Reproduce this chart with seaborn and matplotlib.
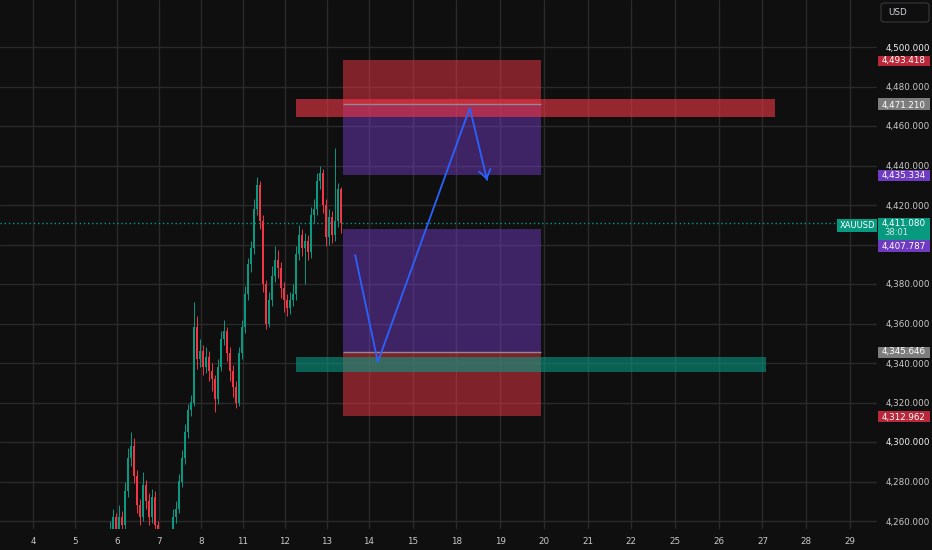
import numpy as np
import pandas as pd
import matplotlib
matplotlib.use("Agg")
import matplotlib.pyplot as plt
import seaborn as sns
from matplotlib.patches import Rectangle, FancyBboxPatch
from matplotlib.transforms import blended_transform_factory

# ---------------- data ----------------
day_labels = ["4", "5", "6", "7", "8", "11", "12", "13", "14", "15",
              "18", "19", "20", "21", "22", "25", "26", "27", "28", "29"]

opens = [4246, 4248, 4250, 4256, 4262, 4254, 4262, 4258, 4275, 4292,
         4298, 4283, 4268, 4262, 4278, 4270, 4262, 4272, 4258, 4248,
         4244, 4242, 4246, 4252, 4262, 4266, 4280, 4292, 4305, 4316,
         4320, 4358, 4342, 4346, 4338, 4343, 4336, 4332, 4322, 4338,
         4352, 4356, 4345, 4336, 4328, 4320, 4345, 4358, 4375, 4390,
         4398, 4418, 4430, 4412, 4380, 4360, 4372, 4384, 4392, 4388,
         4378, 4372, 4368, 4372, 4375, 4395, 4405, 4398, 4402, 4396,
         4415, 4418, 4432, 4436, 4420, 4404, 4414, 4405, 4412, 4428]
closes = [4248, 4250, 4256, 4262, 4254, 4262, 4258, 4275, 4292, 4298,
          4283, 4268, 4262, 4278, 4270, 4262, 4272, 4258, 4248, 4244,
          4242, 4246, 4252, 4262, 4266, 4280, 4292, 4305, 4316, 4320,
          4358, 4342, 4346, 4338, 4343, 4336, 4332, 4322, 4338, 4352,
          4356, 4345, 4336, 4328, 4320, 4345, 4358, 4375, 4390, 4398,
          4418, 4430, 4412, 4380, 4360, 4372, 4384, 4392, 4388, 4378,
          4372, 4368, 4372, 4375, 4395, 4405, 4398, 4402, 4396, 4415,
          4418, 4432, 4436, 4420, 4404, 4414, 4405, 4412, 4428, 4411.08]
highs = [4251, 4254, 4260, 4266, 4264, 4268, 4265, 4280, 4297, 4305,
         4302, 4286, 4271, 4285, 4281, 4274, 4276, 4275, 4260, 4251,
         4247, 4250, 4256, 4266, 4270, 4284, 4296, 4309, 4319, 4324,
         4371, 4364, 4352, 4349, 4348, 4346, 4340, 4334, 4342, 4356,
         4362, 4358, 4348, 4339, 4331, 4348, 4362, 4379, 4393, 4402,
         4423, 4434, 4432, 4415, 4382, 4376, 4389, 4399, 4397, 4391,
         4381, 4375, 4376, 4380, 4399, 4410, 4408, 4406, 4405, 4419,
         4423, 4436, 4440, 4438, 4423, 4418, 4417, 4449, 4431, 4429]
lows = [4243, 4245, 4248, 4253, 4250, 4252, 4254, 4256, 4272, 4288,
        4279, 4264, 4258, 4260, 4266, 4258, 4259, 4254, 4244, 4240,
        4238, 4239, 4243, 4250, 4259, 4264, 4277, 4289, 4302, 4313,
        4318, 4337, 4338, 4334, 4335, 4331, 4326, 4315, 4319, 4336,
        4349, 4341, 4331, 4323, 4317, 4318, 4342, 4355, 4372, 4386,
        4395, 4415, 4408, 4376, 4357, 4358, 4369, 4381, 4383, 4373,
        4366, 4364, 4365, 4369, 4372, 4392, 4394, 4380, 4392, 4393,
        4411, 4415, 4428, 4416, 4399, 4400, 4401, 4402, 4409, 4406]

# position tool zones (prices)
upper_stop = 4493.418
upper_entry = 4471.210
upper_target = 4435.334
lower_top = 4407.787
lower_entry = 4345.646
lower_stop = 4312.962
red_band = (4464.6, 4473.8)
green_band = (4335.5, 4343.0)
last_price = 4411.080
countdown = "38:01"

# drawn arrow path (x in day units, price)
arrow_x = [7.67, 8.21, 10.40, 10.81]
arrow_y = [4394.7, 4340.5, 4469.1, 4432.7]

# price ticks hidden behind the price tags in the reference
hidden_ticks = [4400]

# ---------------- layout ----------------
W, H = 932, 550
BG = "#0f0f0f"
GRID = "#2a2a2a"
TXT = "#c9c9c9"
UP = "#089981"
DOWN = "#f23645"

sns.set_theme(style="dark", rc={
    "axes.facecolor": BG, "figure.facecolor": BG,
    "axes.edgecolor": BG, "grid.color": GRID,
})
plt.rcParams["font.family"] = ["DejaVu Sans"]

fig = plt.figure(figsize=(W / 100, H / 100), dpi=100)
ax_left_px, ax_right_px, ax_bottom_px = 0, 877, 529
ax = fig.add_axes([0, (H - ax_bottom_px) / H, ax_right_px / W, ax_bottom_px / H])
ax.set_facecolor(BG)

# x: day units, 42 px per past day
px_per_unit = 42.0
x0_px = 33.0
xlim = ((0 - x0_px) / px_per_unit, (ax_right_px - x0_px) / px_per_unit)
ax.set_xlim(*xlim)
# y: price
px_per_price = 1.975
ylim = (4500 - (ax_bottom_px - 47) / px_per_price, 4500 + 47 / px_per_price)
ax.set_ylim(*ylim)

past_n = 8
future_step = 1.041
xticks = [i for i in range(past_n)] + [past_n + k * future_step for k in range(len(day_labels) - past_n)]
yticks = list(range(4260, 4501, 20))

for xv in xticks:
    ax.axvline(xv, color=GRID, lw=1, zorder=0)
for yv in yticks:
    ax.axhline(yv, color=GRID, lw=1, zorder=0)

# ---------------- candles ----------------
bar_start = 1.69
bar_step = 1 / 14
df = pd.DataFrame({"open": opens, "high": highs, "low": lows, "close": closes})
df["x"] = bar_start + np.arange(len(df)) * bar_step
df["up"] = df["close"] >= df["open"]
df["color"] = np.where(df["up"], UP, DOWN)
ax.vlines(df["x"], df["low"], df["high"], colors=df["color"], lw=0.7, zorder=3)
body_bottom = df[["open", "close"]].min(axis=1)
body_h = (df["close"] - df["open"]).abs().clip(lower=0.4)
ax.bar(df["x"], body_h, bottom=body_bottom, width=0.05, color=df["color"],
       linewidth=0, zorder=4)

# ---------------- zones ----------------
zl, zr = 7.38, 12.1
band_l = 6.26
ax.add_patch(Rectangle((zl, upper_entry), zr - zl, upper_stop - upper_entry,
                       facecolor=DOWN, alpha=0.5, lw=0, zorder=2))
ax.add_patch(Rectangle((zl, upper_target), zr - zl, upper_entry - upper_target,
                       facecolor="#7b3fd0", alpha=0.45, lw=0, zorder=2))
ax.add_patch(Rectangle((zl, lower_entry), zr - zl, lower_top - lower_entry,
                       facecolor="#7b3fd0", alpha=0.45, lw=0, zorder=2))
ax.add_patch(Rectangle((zl, lower_stop), zr - zl, lower_entry - lower_stop,
                       facecolor=DOWN, alpha=0.5, lw=0, zorder=2))
ax.hlines([upper_entry, lower_entry], zl, zr, colors="#8d8a94", lw=1, zorder=2.5)
ax.add_patch(Rectangle((band_l, red_band[0]), 17.67 - band_l, red_band[1] - red_band[0],
                       facecolor=DOWN, alpha=0.6, lw=0, zorder=2.2))
ax.add_patch(Rectangle((band_l, green_band[0]), 17.45 - band_l, green_band[1] - green_band[0],
                       facecolor=UP, alpha=0.6, lw=0, zorder=2.2))

# current price line
ax.axhline(last_price, color=UP, lw=1, ls=(0, (1, 2)), zorder=2.6)

# arrow path
sns.lineplot(x=arrow_x, y=arrow_y, sort=False, color="#2962ff", lw=1.3, ax=ax, zorder=6)
dx = arrow_x[-1] - arrow_x[-2]
dy = arrow_y[-1] - arrow_y[-2]
ax.annotate("", xy=(arrow_x[-1], arrow_y[-1]),
            xytext=(arrow_x[-1] - 0.05 * dx, arrow_y[-1] - 0.05 * dy),
            arrowprops=dict(arrowstyle="->,head_length=0.5,head_width=0.35", color="#2962ff",
                            lw=1.3, mutation_scale=12, shrinkA=0, shrinkB=0), zorder=6)

# ---------------- axes ticks ----------------
ax.set_xticks(xticks)
ax.set_xticklabels(day_labels)
ax.set_yticks(yticks)
ax.set_yticklabels(["" if v in hidden_ticks else f"{v:,.3f}" for v in yticks])
ax.yaxis.tick_right()
ax.tick_params(axis="y", length=0, pad=6, labelsize=6.3, labelcolor=TXT)
ax.tick_params(axis="x", length=0, pad=6, labelsize=6.3, labelcolor=TXT)
for v, lab in zip(yticks, ax.get_yticklabels()):
    if v % 100 == 0:
        lab.set_color("#f2f2f2")
ax.grid(False)
for s in ax.spines.values():
    s.set_visible(False)

# ---------------- price tags ----------------
tag_tf = blended_transform_factory(ax.transAxes, ax.transData)
tag_x0 = 878 / ax_right_px
tag_w = 52 / ax_right_px


def tag(price, text, color, top_px=-5.0, bot_px=5.0, text_off_px=0.0, sub=None):
    top = price - top_px / px_per_price
    bot = price - bot_px / px_per_price
    ax.add_patch(Rectangle((tag_x0, bot), tag_w, top - bot, transform=tag_tf,
                           facecolor=color, lw=0, clip_on=False, zorder=10))
    ty = price - text_off_px / px_per_price
    ax.text(tag_x0 + tag_w / 2, ty, text, transform=tag_tf, ha="center", va="center",
            color="white", fontsize=6.3, clip_on=False, zorder=11)
    if sub:
        ax.text(tag_x0 + 6 / ax_right_px, ty - 9.5 / px_per_price, sub, transform=tag_tf,
                ha="left", va="center", color="#cfe9e3", fontsize=6.0, clip_on=False, zorder=11)


tag(upper_stop, f"{upper_stop:,.3f}", "#b8283a", -4, 6, 1)
tag(upper_entry, f"{upper_entry:,.3f}", "#7d7d7d", -6, 6, 2)
tag(upper_target, f"{upper_target:,.3f}", "#6f3bc0", -5, 6, 1)
tag(last_price, f"{last_price:,.3f}", UP, -5, 17.5, 0.5, sub=countdown)
tag(lower_top, f"{lower_top:,.3f}", "#6f3bc0", 11.1, 22.6, 17.5)
tag(lower_entry, f"{lower_entry:,.3f}", "#7d7d7d", -5, 6, 0)
tag(lower_stop, f"{lower_stop:,.3f}", "#b8283a", -5, 6, 1)

# symbol tag
ax.add_patch(Rectangle(((837) / ax_right_px, last_price - 9 / px_per_price), 40 / ax_right_px,
                       13 / px_per_price, transform=tag_tf, facecolor=UP, lw=0,
                       clip_on=False, zorder=10))
ax.text(857 / ax_right_px, last_price - 2.5 / px_per_price, "XAUUSD", transform=tag_tf,
        ha="center", va="center", color="white", fontsize=6.0, clip_on=False, zorder=11)

# currency box
fig.patches.append(FancyBboxPatch((881 / W, 1 - 22 / H), 48 / W, 19 / H,
                                  boxstyle="round,pad=0,rounding_size=0.004",
                                  transform=fig.transFigure, facecolor=BG,
                                  edgecolor="#3a3a3a", lw=0.8))
fig.text(888 / W, 1 - 12.5 / H, "USD", ha="left", va="center", color="#d1d4dc", fontsize=6.3)

fig.savefig("out.png", dpi=100, facecolor=BG)
